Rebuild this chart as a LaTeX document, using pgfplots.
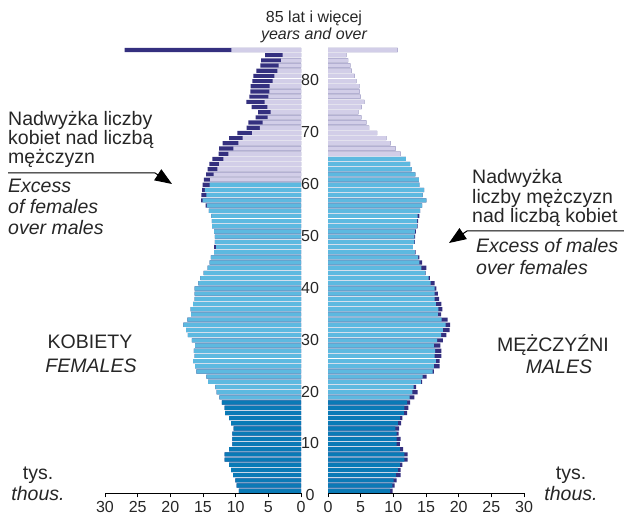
\documentclass[border=0pt]{standalone}
\usepackage{fontspec}
\setmainfont{Liberation Sans}
\usepackage{pgfplots}
\pgfplotsset{compat=1.18}
\usepackage{pgfplotstable}
\usetikzlibrary{arrows.meta}

\definecolor{youngc}{HTML}{0A7AB6}
\definecolor{workc}{HTML}{5DB9E0}
\definecolor{oldc}{HTML}{D2CEE8}
\definecolor{excessc}{HTML}{34307F}

% age, females (thous.), males (thous.)
\pgfplotstableread{
age F M
0 9.5 9.9
1 9.85 10.2
2 10.05 10.5
3 10.4 11.1
4 10.7 11.1
5 11.0 11.4
6 11.7 12.2
7 11.7 12.2
8 11.0 11.5
9 10.5 11.0
10 10.5 11.1
11 10.5 10.8
12 10.3 10.9
13 10.7 11.2
14 11.0 11.4
15 11.6 12.1
16 11.7 12.3
17 12.1 12.55
18 12.5 13.2
19 12.9 13.7
20 13.1 13.5
21 14.2 14.4
22 14.5 15.1
23 16.0 16.2
24 16.2 17.1
25 16.5 17.1
26 16.3 17.35
27 16.4 17.35
28 16.2 17.2
29 16.7 17.6
30 17.3 18.1
31 17.6 18.6
32 18.0 18.7
33 17.4 18.3
34 16.8 17.3
35 16.9 17.5
36 16.5 17.35
37 16.3 17.0
38 16.3 16.8
39 16.3 16.6
40 15.7 16.3
41 15.4 15.6
42 14.9 14.95
43 14.3 15.05
44 14.0 14.4
45 13.8 14.0
46 13.3 13.4
47 13.3 13.0
48 13.2 13.3
49 13.2 13.35
50 13.3 13.45
51 13.6 13.7
52 13.65 13.8
53 13.7 14.0
54 14.1 14.1
55 14.6 14.4
56 15.3 15.05
57 15.25 14.5
58 15.15 14.7
59 15.05 14.0
60 14.85 13.9
61 14.54 13.37
62 14.3 12.8
63 14.03 12.55
64 13.57 11.9
65 12.6 11.1
66 12.55 10.36
67 12.0 9.6
68 11.0 8.93
69 9.74 7.5
70 8.32 6.28
71 8.06 5.87
72 6.94 5.1
73 6.58 4.64
74 7.55 5.15
75 8.37 5.56
76 7.9 5.0
77 7.76 4.85
78 7.7 4.8
79 7.45 4.34
80 7.3 4.08
81 6.84 3.62
82 6.22 3.42
83 6.12 3.06
84 5.51 2.8
85 27.0 10.66
}\pop

\pgfplotsset{
  pyr/.style={
    scale only axis, width=196bp, height=445.9bp,
    anchor=south west,
    xmin=0, xmax=30, ymin=-0.5, ymax=85.5,
    xbar, bar width=0.8, bar shift=0pt,
    every axis plot/.append style={bar shift=0pt},
    axis x line*=bottom,
    x axis line style={line width=1.3bp, black},
    xtick={0,5,...,30},
    tick align=outside,
    major tick length=4bp,
    xtick style={line width=0.6bp, black},
    tick label style={font=\fontsize{16bp}{18bp}\selectfont, text=black!85},
    /pgf/number format/assume math mode=true,
    xticklabel style={yshift=-1bp},
    clip=false,
  }
}

\begin{document}
\begin{tikzpicture}[x=1bp,y=1bp]
\path[use as bounding box] (0,0) rectangle (624,519);

% ---------- females (left) ----------
\begin{axis}[pyr, at={(105bp,25.7bp)}, x dir=reverse, axis y line=none, ytick=\empty]
  \addplot[fill=excessc, draw=none, bar shift=0pt] table[x=F, y=age] {\pop};
  \addplot[fill=youngc, draw=none, bar shift=0pt, restrict y to domain=-1:17.5]
    table[x expr={min(\thisrow{F},\thisrow{M})}, y=age] {\pop};
  \addplot[fill=workc, draw=none, bar shift=0pt, restrict y to domain=17.5:59.5]
    table[x expr={min(\thisrow{F},\thisrow{M})}, y=age] {\pop};
  \addplot[fill=oldc, draw=none, bar shift=0pt, restrict y to domain=59.5:86]
    table[x expr={min(\thisrow{F},\thisrow{M})}, y=age] {\pop};
\end{axis}

% ---------- males (right) ----------
\begin{axis}[pyr, at={(328bp,25.7bp)},
  axis y line*=left, y axis line style={draw=none},
  ytick={0,10,...,80}, ytick style={draw=none},
  yticklabel style={anchor=center, xshift=-14bp, yshift=-4.5bp}]
  \addplot[fill=excessc, draw=none, bar shift=0pt] table[x=M, y=age] {\pop};
  \addplot[fill=youngc, draw=none, bar shift=0pt, restrict y to domain=-1:17.5]
    table[x expr={min(\thisrow{F},\thisrow{M})}, y=age] {\pop};
  \addplot[fill=workc, draw=none, bar shift=0pt, restrict y to domain=17.5:64.5]
    table[x expr={min(\thisrow{F},\thisrow{M})}, y=age] {\pop};
  \addplot[fill=oldc, draw=none, bar shift=0pt, restrict y to domain=64.5:86]
    table[x expr={min(\thisrow{F},\thisrow{M})}, y=age] {\pop};
\end{axis}

% ---------- texts ----------
\begin{scope}[every node/.style={inner sep=0pt, text=black!85}]
\node[font=\fontsize{16bp}{18bp}\selectfont] at (314,501) {85 lat i więcej};
\node[font=\fontsize{16bp}{18bp}\selectfont\itshape] at (314,484) {years and over};

\begin{scope}[font=\fontsize{19.5bp}{21bp}\selectfont]
\node[anchor=base west] at (8,{519-126}) {Nadwyżka liczby};
\node[anchor=base west] at (8,{519-145}) {kobiet nad liczbą};
\node[anchor=base west] at (8,{519-164}) {mężczyzn};
\node[anchor=base west, font=\fontsize{19.5bp}{21bp}\selectfont\itshape] at (8,{519-193}) {Excess};
\node[anchor=base west, font=\fontsize{19.5bp}{21bp}\selectfont\itshape] at (8,{519-214}) {of females};
\node[anchor=base west, font=\fontsize{19.5bp}{21bp}\selectfont\itshape] at (8,{519-235}) {over males};

\node[anchor=base west] at (472,{519-184}) {Nadwyżka};
\node[anchor=base west] at (472,{519-204}) {liczby mężczyzn};
\node[anchor=base west] at (472,{519-223}) {nad liczbą kobiet};
\node[anchor=base west, font=\fontsize{19.5bp}{21bp}\selectfont\itshape] at (476,{519-253}) {Excess of males};
\node[anchor=base west, font=\fontsize{19.5bp}{21bp}\selectfont\itshape] at (476,{519-275}) {over females};

\node[anchor=base] at (90,{519-349}) {KOBIETY};
\node[anchor=base, font=\fontsize{19.5bp}{21bp}\selectfont\itshape] at (91,{519-373}) {FEMALES};
\node[anchor=base] at (553,{519-352}) {MĘŻCZYŹNI};
\node[anchor=base, font=\fontsize{19.5bp}{21bp}\selectfont\itshape] at (559,{519-374}) {MALES};

\node[anchor=base] at (38,{519-480}) {tys.};
\node[anchor=base, font=\fontsize{19.5bp}{21bp}\selectfont\itshape] at (38,{519-501}) {thous.};
\node[anchor=base] at (571,{519-480}) {tys.};
\node[anchor=base, font=\fontsize{19.5bp}{21bp}\selectfont\itshape] at (571,{519-501}) {thous.};
\end{scope}
\end{scope}

% ---------- arrows ----------
\draw[line width=1bp, black, -{Triangle[length=17bp,width=13bp]}]
  (8,{519-173}) -- (155,{519-173}) -- (172,{519-184});
\draw[line width=1bp, black, -{Triangle[length=17bp,width=13bp]}]
  (624,{519-231}) -- (467,{519-231}) -- (449,{519-243});
\end{tikzpicture}
\end{document}
